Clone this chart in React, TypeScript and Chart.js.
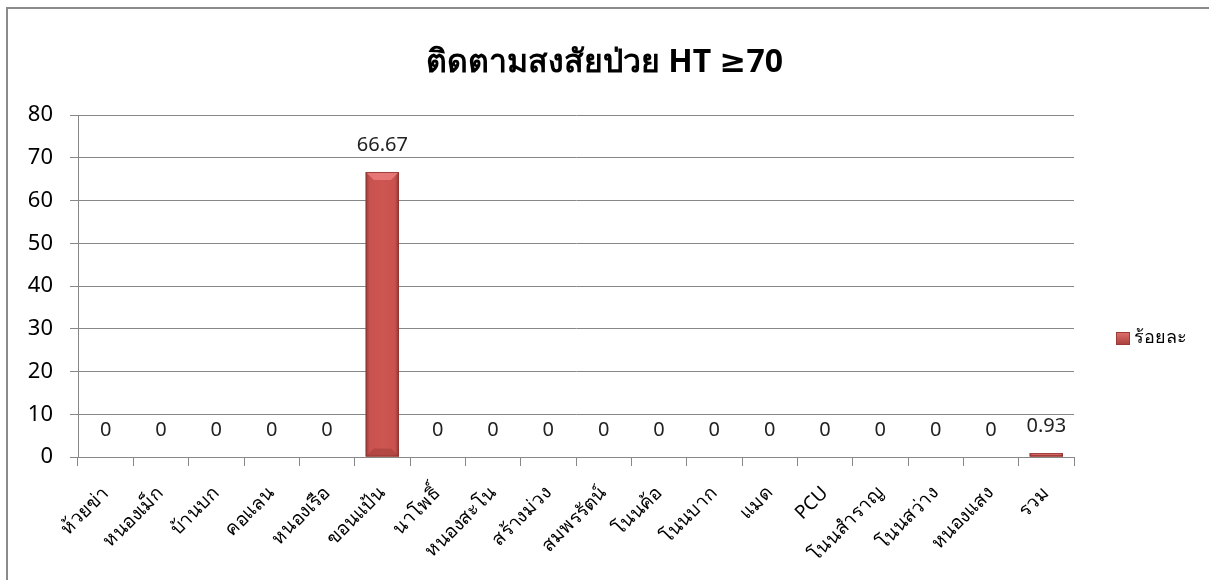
import React, { useEffect, useRef } from "react";
import { Chart, registerables } from "chart.js";

Chart.register(...registerables);

const chartTitle = "ติดตามสงสัยป่วย HT ≥70";
const seriesLabel = "ร้อยละ";
const categories = [
  "ห้วยข่า",
  "หนองเม็ก",
  "บ้านบก",
  "คอแลน",
  "หนองเรือ",
  "ขอนแป้น",
  "นาโพธิ์",
  "หนองสะโน",
  "สร้างม่วง",
  "สมพรรัตน์",
  "โนนค้อ",
  "โนนบาก",
  "แมด",
  "PCU",
  "โนนสำราญ",
  "โนนสว่าง",
  "หนองแสง",
  "รวม",
];
const percentValues = [0, 0, 0, 0, 0, 66.67, 0, 0, 0, 0, 0, 0, 0, 0, 0, 0, 0, 0.93];
const yMin = 0;
const yMax = 80;
const yStep = 10;

const FONT = 'Tahoma, "Noto Sans", "DejaVu Sans", sans-serif';
const BAR_COLOR = "#c7504d";
const GRID_COLOR = "#878787";

const bevelPlugin = {
  id: "bevelBars",
  afterDatasetsDraw(chart: any) {
    const ctx = chart.ctx;
    const meta = chart.getDatasetMeta(0);
    ctx.save();
    meta.data.forEach((el: any) => {
      const w = el.width;
      const left = el.x - w / 2;
      const right = el.x + w / 2;
      const top = Math.min(el.y, el.base);
      const bottom = Math.max(el.y, el.base);
      const h = bottom - top;
      if (h <= 0.5) return;
      const g = ctx.createLinearGradient(left, 0, right, 0);
      g.addColorStop(0, "#9c3b38");
      g.addColorStop(0.12, "#c9524f");
      g.addColorStop(0.5, "#cd5653");
      g.addColorStop(0.88, "#c9524f");
      g.addColorStop(1, "#943734");
      ctx.fillStyle = g;
      ctx.fillRect(left, top, w, h);
      const b = Math.min(8, h / 2);
      if (b > 1) {
        ctx.fillStyle = "rgba(236,128,125,0.8)";
        ctx.beginPath();
        ctx.moveTo(left, top);
        ctx.lineTo(right, top);
        ctx.lineTo(right - b, top + b);
        ctx.lineTo(left + b, top + b);
        ctx.closePath();
        ctx.fill();
        ctx.fillStyle = "rgba(150,55,52,0.45)";
        ctx.beginPath();
        ctx.moveTo(left, bottom);
        ctx.lineTo(right, bottom);
        ctx.lineTo(right - b, bottom - b);
        ctx.lineTo(left + b, bottom - b);
        ctx.closePath();
        ctx.fill();
      }
      ctx.strokeStyle = "rgba(140,52,50,0.8)";
      ctx.lineWidth = 1;
      ctx.strokeRect(left + 0.5, top + 0.5, w - 1, Math.max(h - 1, 0));
    });
    ctx.restore();
  },
};

const valueLabelPlugin = {
  id: "valueLabels",
  afterDatasetsDraw(chart: any) {
    const ctx = chart.ctx;
    const meta = chart.getDatasetMeta(0);
    const data = chart.data.datasets[0].data;
    ctx.save();
    ctx.font = `20px ${FONT}`;
    ctx.fillStyle = "#222";
    ctx.textAlign = "center";
    ctx.textBaseline = "middle";
    meta.data.forEach((el: any, i: number) => {
      const top = Math.min(el.y, el.base);
      ctx.fillText(String(data[i]), el.x, top - 27);
    });
    ctx.restore();
  },
};

const sideLegendPlugin = {
  id: "sideLegend",
  afterDraw(chart: any) {
    const ctx = chart.ctx;
    const area = chart.chartArea;
    const x = area.right + 42;
    const y = 338;
    ctx.save();
    const g = ctx.createLinearGradient(x, y - 6, x, y + 7);
    g.addColorStop(0, "#e0706d");
    g.addColorStop(1, "#a8403d");
    ctx.fillStyle = g;
    ctx.fillRect(x, y - 6, 14, 13);
    ctx.strokeStyle = "#9c3b38";
    ctx.lineWidth = 1;
    ctx.strokeRect(x + 0.5, y - 5.5, 13, 12);
    ctx.font = `18px ${FONT}`;
    ctx.fillStyle = "#000";
    ctx.textAlign = "left";
    ctx.textBaseline = "middle";
    ctx.fillText(chart.data.datasets[0].label, x + 18, y);
    ctx.restore();
  },
};

export default function App() {
  const canvasRef = useRef<HTMLCanvasElement | null>(null);

  useEffect(() => {
    if (!canvasRef.current) return;
    const chart = new Chart(canvasRef.current, {
      type: "bar",
      data: {
        labels: categories,
        datasets: [
          {
            label: seriesLabel,
            data: percentValues,
            backgroundColor: BAR_COLOR,
            borderWidth: 0,
            barPercentage: 0.6,
            categoryPercentage: 1,
          },
        ],
      },
      options: {
        animation: false,
        responsive: false,
        devicePixelRatio: 1,
        layout: { padding: { left: 0, right: 0, top: 0, bottom: 0 } },
        plugins: {
          legend: { display: false },
          tooltip: { enabled: false },
          title: {
            display: true,
            text: chartTitle,
            color: "#000",
            font: { family: FONT, size: 32, weight: "bold", lineHeight: 1.2 },
            padding: { top: 44, bottom: 32.6 },
          },
        },
        scales: {
          x: {
            grid: {
              display: true,
              drawOnChartArea: false,
              drawTicks: true,
              tickLength: 9,
              color: GRID_COLOR,
              offset: true,
            },
            border: { display: true, color: GRID_COLOR, width: 1 },
            ticks: {
              autoSkip: false,
              maxRotation: 45,
              minRotation: 45,
              color: "#000",
              padding: 16,
              font: { family: FONT, size: 19 },
            },
            afterFit(scale: any) {
              scale.height = 123;
            },
          },
          y: {
            min: yMin,
            max: yMax,
            ticks: {
              stepSize: yStep,
              color: "#000",
              padding: 17,
              font: { family: FONT, size: 22 },
            },
            grid: { color: GRID_COLOR, tickLength: 8, lineWidth: 1 },
            border: { display: true, color: GRID_COLOR, width: 1 },
            afterFit(scale: any) {
              scale.width = 78;
            },
          },
          legendSpace: {
            type: "linear",
            position: "right",
            display: true,
            grid: { display: false, drawTicks: false },
            border: { display: false },
            ticks: { display: false },
            afterFit(scale: any) {
              scale.width = 135;
            },
          },
        },
      },
      plugins: [bevelPlugin, valueLabelPlugin, sideLegendPlugin],
    });
    return () => chart.destroy();
  }, []);

  return (
    <div
      style={{
        position: "fixed",
        left: 0,
        top: 0,
        width: 1209,
        height: 580,
        overflow: "hidden",
        background: "#fff",
      }}
    >
      <div
        style={{
          position: "absolute",
          left: 6,
          top: 7,
          width: 1300,
          height: 700,
          borderLeft: "2px solid #8a8a8a",
          borderTop: "2px solid #8a8a8a",
        }}
      />
      <canvas
        ref={canvasRef}
        width={1209}
        height={580}
        style={{ position: "absolute", left: 0, top: 0, display: "block" }}
      />
    </div>
  );
}
